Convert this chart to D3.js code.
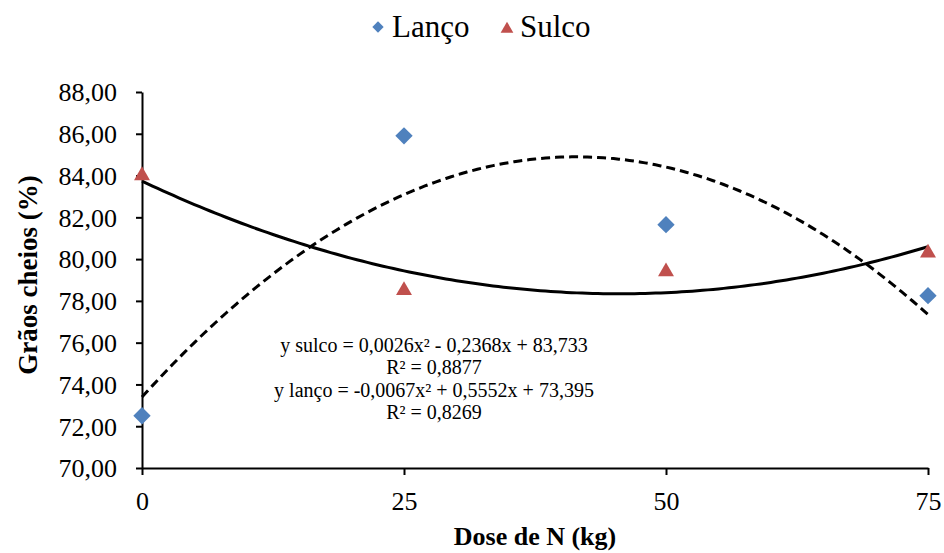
<!DOCTYPE html>
<html>
<head>
<meta charset="utf-8">
<script src="https://cdn.jsdelivr.net/npm/d3@7"></script>
<style>
  body { margin: 0; background: #fff; }
  svg text { fill: #000; }
</style>
</head>
<body>
<svg id="chart" width="944" height="553"></svg>
<script>
// data
var doses = [0, 25, 50, 75]
var lanco = [72.5, 85.9, 81.65, 78.25]
var sulco = [84.0, 78.5, 79.4, 80.3]
var yTicks = [70, 72, 74, 76, 78, 80, 82, 84, 86, 88]

// trendline coefficients [a, b, c] for a*x^2 + b*x + c
var sulcoFit = [0.0026, -0.2368, 83.733]
var lancoFit = [-0.0067, 0.5552, 73.395]
var eqLines = [
  'y sulco = 0,0026x² - 0,2368x + 83,733',
  'R² = 0,8877',
  'y lanço = -0,0067x² + 0,5552x + 73,395',
  'R² = 0,8269'
]

var blue = '#4F81BD'
var red = '#C0504D'
var serif = '"Liberation Serif", "Times New Roman", Tinos, "DejaVu Serif", serif'

var svg = d3.select('#chart').attr('font-family', serif)
var margin = {left: 142, top: 92}

var x = d3.scaleLinear().domain([0, 75]).range([0, 786])
var y = d3.scaleLinear().domain([70, 88]).range([376, 0])

var g = svg.append('g').attr('transform', `translate(${margin.left},${margin.top})`)

var fmt = d => d3.format('.2f')(d).replace('.', ',')

// axes
var yAxis = g.append('g')
  .call(d3.axisLeft(y).tickValues(yTicks).tickFormat(fmt).tickSize(6).tickSizeOuter(0))
var xAxis = g.append('g').attr('transform', `translate(0,${y(70)})`)
  .call(d3.axisBottom(x).tickValues(doses).tickSize(7).tickSizeOuter(0))

;[yAxis, xAxis].forEach(ax => {
  ax.attr('font-family', serif)
  ax.select('.domain').attr('stroke', '#000').attr('stroke-width', 2)
  ax.selectAll('.tick line').attr('stroke', '#000').attr('stroke-width', 2)
  ax.selectAll('.tick text').style('font-size', '26px').style('font-family', serif)
})
yAxis.selectAll('.tick text').attr('x', -25).attr('dy', '0.34em')
xAxis.selectAll('.tick text').attr('y', 42).attr('dy', 0)

// trend lines
function poly(f){ return xx => f[0]*xx*xx + f[1]*xx + f[2] }
var xs = d3.range(0, 75.01, 0.5)
var line = d3.line().x(d => x(d[0])).y(d => y(d[1]))

g.append('path')
  .datum(xs.map(d => [d, poly(sulcoFit)(d)]))
  .attr('d', line)
  .attr('fill', 'none').attr('stroke', '#000').attr('stroke-width', 3)

g.append('path')
  .datum(xs.map(d => [d, poly(lancoFit)(d)]))
  .attr('d', line)
  .attr('fill', 'none').attr('stroke', '#000').attr('stroke-width', 3)
  .attr('stroke-dasharray', '9,5')

// markers
var diamond = d3.symbol().type(d3.symbolSquare).size(150)
var triangle = d3.symbol().type(d3.symbolTriangle).size(110)

g.selectAll('.lanco').data(doses).enter().append('path')
  .attr('d', diamond)
  .attr('transform', (d, i) => `translate(${x(d)},${y(lanco[i])}) rotate(45)`)
  .attr('fill', blue)

g.selectAll('.sulco').data(doses).enter().append('path')
  .attr('d', triangle)
  .attr('transform', (d, i) => `translate(${x(d)},${y(sulco[i])})`)
  .attr('fill', red)

// equations
g.append('g').selectAll('text').data(eqLines).enter().append('text')
  .attr('x', 292)
  .attr('y', (d, i) => 260 + i*22.3)
  .attr('text-anchor', 'middle')
  .style('font-size', '20px')
  .text(d => d)

// axis titles
svg.append('text')
  .attr('x', 535).attr('y', 545)
  .attr('text-anchor', 'middle')
  .style('font-size', '26px').style('font-weight', 'bold')
  .text('Dose de N (kg)')

svg.append('text')
  .attr('transform', 'translate(37,275) rotate(-90)')
  .attr('text-anchor', 'middle')
  .style('font-size', '27px').style('font-weight', 'bold')
  .text('Grãos cheios (%)')

// legend
var legDiamond = d3.symbol().type(d3.symbolSquare).size(64)
var legTriangle = d3.symbol().type(d3.symbolTriangle).size(70)
var leg = svg.append('g')
leg.append('path').attr('d', legDiamond).attr('transform', 'translate(378,27) rotate(45)').attr('fill', blue)
leg.append('text').attr('x', 392).attr('y', 37).style('font-size', '31px').text('Lanço')
leg.append('path').attr('d', legTriangle).attr('transform', 'translate(507,29)').attr('fill', red)
leg.append('text').attr('x', 520).attr('y', 37).style('font-size', '31px').text('Sulco')
</script>
</body>
</html>
